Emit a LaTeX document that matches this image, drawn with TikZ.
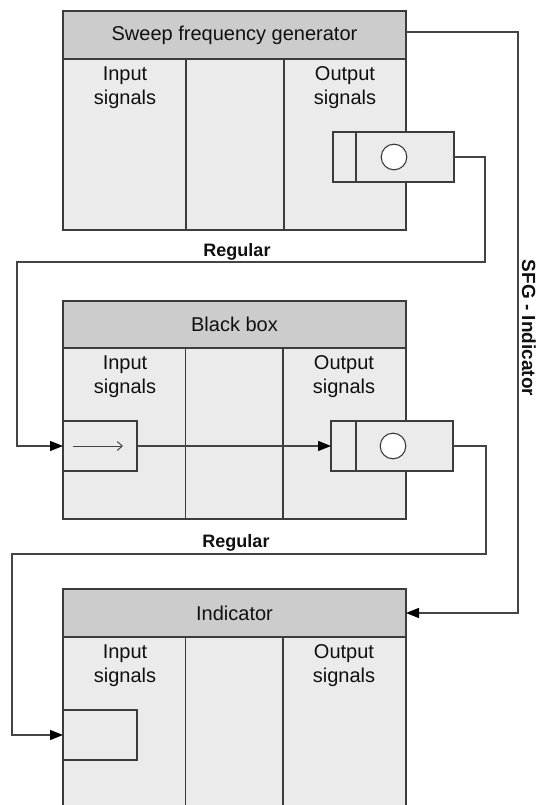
\documentclass[tikz,border=0pt]{standalone}
\usepackage{fontspec}
\setmainfont{Liberation Sans}
\usetikzlibrary{arrows.meta}
\definecolor{hdr}{HTML}{CCCCCC}
\definecolor{bdy}{HTML}{EBEBEB}
\definecolor{edgec}{HTML}{3C3C3C}
\definecolor{wirec}{HTML}{444444}
\definecolor{txt}{HTML}{101010}
\begin{document}
\begin{tikzpicture}[x=1pt,y=-1pt,
  every node/.style={inner sep=0pt,outer sep=0pt,text=txt},
  hdrbox/.style={draw=edgec,fill=hdr,line width=1.3pt,minimum width=343pt,minimum height=48pt,anchor=north west,font=\fontsize{20}{24}\selectfont},
  bodybox/.style={draw=edgec,fill=bdy,line width=1.3pt,minimum width=343pt,minimum height=171pt,anchor=north west},
  divline/.style={draw=edgec,line width=1.1pt},
  lbl/.style={align=center,font=\fontsize{20}{24}\selectfont},
  blk/.style={draw=edgec,fill=bdy,line width=1.2pt,minimum height=50pt,anchor=north west},
  ring/.style={circle,draw=edgec,fill=white,line width=1.1pt,minimum size=25.6pt},
  wire/.style={draw=wirec,line width=1.2pt},
  tip/.style={-{Triangle[length=13pt,width=10pt,color=black]}},
  reglbl/.style={font=\fontsize{18}{22}\selectfont\bfseries}
]
\useasboundingbox (0,0) rectangle (537,805);
\clip (0,0) rectangle (537,805);

% ---------- Sweep frequency generator ----------
\node[bodybox] (sfgb) at (63,59) {};
\node[hdrbox] (sfgh) at (63,11) {Sweep frequency generator};
\draw[divline] (186,59) -- (186,230);
\draw[divline] (284,59) -- (284,230);
\node[lbl] (sfgin) at (125,88) {Input\\signals};
\node[lbl] (sfgout) at (345,88) {Output\\signals};
\node[blk,minimum width=23pt] (sfgoa) at (333,132) {};
\node[blk,minimum width=98pt] (sfgob) at (356,132) {};
\node[ring] (sfgc) at (394,157) {};

% ---------- Black box ----------
\node[bodybox] (bbb) at (63,348) {};
\node[hdrbox,minimum height=47pt] (bbh) at (63,301) {Black box};
\draw[divline] (185.5,348) -- (185.5,519);
\draw[divline] (283,348) -- (283,519);
\node[lbl] (bbin) at (125,377) {Input\\signals};
\node[lbl] (bbout) at (344,377) {Output\\signals};
\node[blk,minimum width=74pt] (bbia) at (63,421) {};
\coordinate (ia1) at (73,446);
\coordinate (ia2) at (123,446);
\draw[draw=wirec,line width=1pt,-{Straight Barb[length=5pt,width=9pt]}] (ia1) -- (ia2);
\node[blk,minimum width=25pt] (bboa) at (331,421) {};
\node[blk,minimum width=97pt] (bbob) at (356,421) {};
\node[ring] (bbc) at (393,446) {};

% ---------- Indicator ----------
\node[bodybox,minimum height=200pt] (indb) at (63,637) {};
\node[hdrbox] (indh) at (63,589) {Indicator};
\draw[divline] (185.5,637) -- (185.5,820);
\draw[divline] (283,637) -- (283,820);
\node[lbl] (indin) at (125,666) {Input\\signals};
\node[lbl] (indout) at (344,666) {Output\\signals};
\node[blk,minimum width=74pt] (india) at (63,710) {};

% ---------- connectors ----------
\coordinate (s1) at (518,32);
\draw[wire,tip] (sfgh.east |- s1) -- (s1) |- (indh.east);

\coordinate (r1a) at (485,262);
\coordinate (r1b) at (17,262);
\draw[wire,tip] (sfgob.east) -| (r1a) -- (r1b) |- (bbia.west);

\draw[wire,tip] (bbia.east) -- (bboa.west);

\coordinate (r2a) at (486,554);
\coordinate (r2b) at (12,554);
\draw[wire,tip] (bbob.east) -| (r2a) -- (r2b) |- (india.west);

% ---------- labels ----------
\node[reglbl] (reg1) at (237,252) {Regular};
\node[reglbl] (reg2) at (236,543) {Regular};
\node[reglbl,font=\fontsize{19}{22}\selectfont\bfseries,rotate=-90] (sfgind) at (529,328) {SFG - Indicator};
\end{tikzpicture}
\end{document}
